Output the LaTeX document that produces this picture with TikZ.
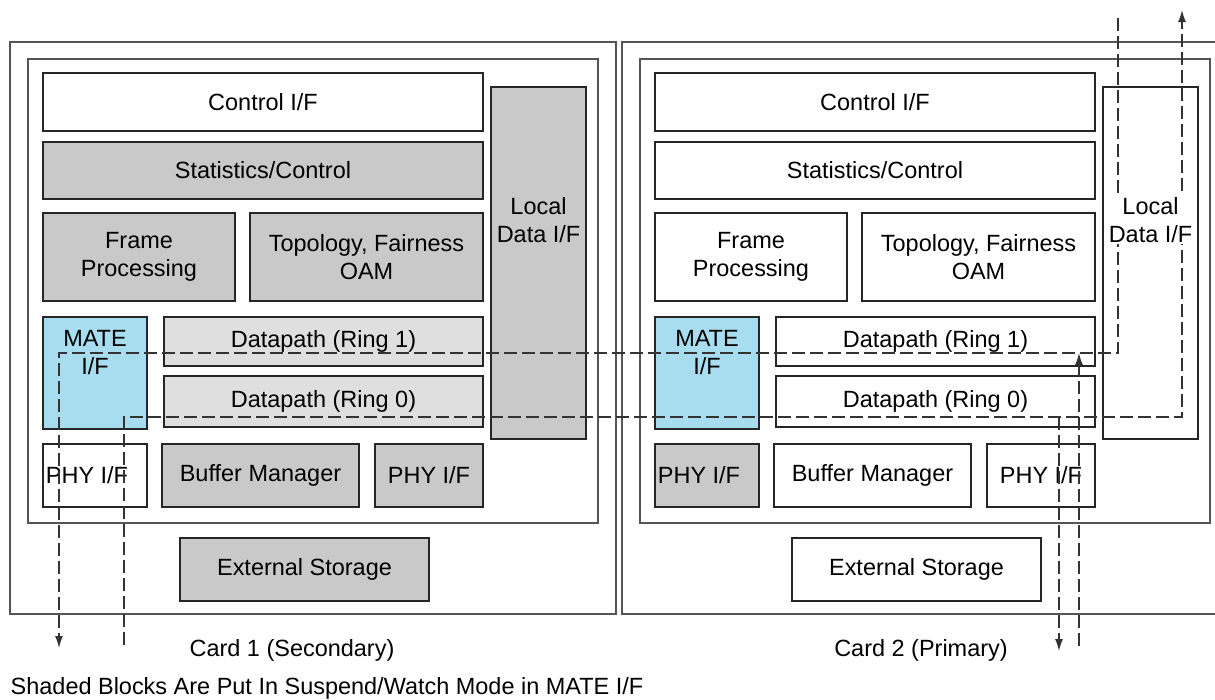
\documentclass[tikz,border=0pt]{standalone}
\usepackage{fontspec}
\setmainfont{Liberation Sans}
\usetikzlibrary{arrows.meta}

\newdimen\pxu \pxu=0.75pt
\definecolor{shade}{HTML}{C9C9C9}
\definecolor{lightshade}{HTML}{DFDFDF}
\definecolor{mateblue}{HTML}{A7DDEF}
\definecolor{cardline}{HTML}{555555}

\begin{document}
\begin{tikzpicture}[x=0.75pt, y=-0.75pt,
  txt/.style={font=\fontsize{17.6}{21}\selectfont, align=center},
  block/.style={rectangle, draw=black!85, line width=1.5pt, inner sep=0pt, txt},
  card/.style={draw=cardline, line width=1.1pt},
  flow/.style={draw=black!80, line width=1pt, dash pattern=on 13\pxu off 5\pxu},
  tip/.style={-{Latex[length=9pt, width=6pt]}}
]
\useasboundingbox (0,0) rectangle (1215,700);
\clip (0,0) rectangle (1215,700);

% card 1 (secondary)
\draw[card] (10,42) rectangle (616,614);
\draw[card] (28,59) rectangle (598,523);
\node[block, fill=white, minimum width=440\pxu, minimum height=58\pxu] (c1ctl) at (263,102) {Control I/F};
\node[block, fill=shade, minimum width=440\pxu, minimum height=57\pxu] (c1stat) at (263,170.5) {Statistics/Control};
\node[block, fill=shade, minimum width=192\pxu, minimum height=88\pxu] (c1frame) at (139,257) {Frame\\Processing};
\node[block, fill=shade, minimum width=233\pxu, minimum height=88\pxu] (c1topo) at (366.5,257) {Topology, Fairness\\OAM};
\node[block, fill=shade, minimum width=95\pxu, minimum height=352\pxu,
  label={[txt, yshift=32pt]center:{Local\\Data I/F}}] (c1local) at (538.5,263) {};
\node[block, fill=mateblue, minimum width=104\pxu, minimum height=112\pxu,
  label={[txt, yshift=15pt]center:{MATE\\I/F}}] (c1mate) at (95,373) {};
\node[block, fill=lightshade, minimum width=319\pxu, minimum height=49\pxu] (c1ring1) at (323.5,341.5) {Datapath (Ring 1)};
\node[block, fill=lightshade, minimum width=319\pxu, minimum height=51\pxu] (c1ring0) at (323.5,401.5) {Datapath (Ring 0)};
\node[block, fill=white, minimum width=104\pxu, minimum height=63\pxu] (c1phya) at (95,475.5) {PHY I/F\hspace*{12pt}};
\node[block, fill=shade, minimum width=197\pxu, minimum height=63\pxu] (c1buf) at (260.5,475.5) {Buffer Manager};
\node[block, fill=shade, minimum width=108\pxu, minimum height=63\pxu] (c1phyb) at (429,475.5) {PHY I/F};
\node[block, fill=shade, minimum width=249\pxu, minimum height=63\pxu] (c1ext) at (304.5,569.5) {External Storage};
\node[txt] (c1name) at (292,650) {Card 1 (Secondary)};

% card 2 (primary)
\begin{scope}[xshift=612\pxu]
\draw[card] (10,42) rectangle (616,614);
\draw[card] (28,59) rectangle (598,523);
\node[block, fill=white, minimum width=440\pxu, minimum height=58\pxu] (c2ctl) at (263,102) {Control I/F};
\node[block, fill=white, minimum width=440\pxu, minimum height=57\pxu] (c2stat) at (263,170.5) {Statistics/Control};
\node[block, fill=white, minimum width=192\pxu, minimum height=88\pxu] (c2frame) at (139,257) {Frame\\Processing};
\node[block, fill=white, minimum width=233\pxu, minimum height=88\pxu] (c2topo) at (366.5,257) {Topology, Fairness\\OAM};
\node[block, fill=white, minimum width=95\pxu, minimum height=352\pxu] (c2local) at (538.5,263) {};
\node[block, fill=mateblue, minimum width=104\pxu, minimum height=112\pxu,
  label={[txt, yshift=15pt]center:{MATE\\I/F}}] (c2mate) at (95,373) {};
\node[block, fill=white, minimum width=319\pxu, minimum height=49\pxu] (c2ring1) at (323.5,341.5) {Datapath (Ring 1)};
\node[block, fill=white, minimum width=319\pxu, minimum height=51\pxu] (c2ring0) at (323.5,401.5) {Datapath (Ring 0)};
\node[block, fill=shade, minimum width=104\pxu, minimum height=63\pxu] (c2phya) at (95,475.5) {PHY I/F\hspace*{12pt}};
\node[block, fill=white, minimum width=197\pxu, minimum height=63\pxu] (c2buf) at (260.5,475.5) {Buffer Manager};
\node[block, fill=white, minimum width=108\pxu, minimum height=63\pxu] (c2phyb) at (429,475.5) {PHY I/F};
\node[block, fill=white, minimum width=249\pxu, minimum height=63\pxu] (c2ext) at (304.5,569.5) {External Storage};
\node[txt] (c2name) at (309,650) {Card 2 (Primary)};
\end{scope}

% dashed data paths
\coordinate (r1lvl) at (0,353);
\coordinate (r0lvl) at (0,417);
\coordinate (r1in)  at (1118,18);
\coordinate (r1out) at (59,648);
\coordinate (r0in)  at (124,645);
\coordinate (r0out) at (1182,10);
\coordinate (dropout) at (1059,651);
\coordinate (addin)  at (1079,646);

\draw[flow, tip] (r1in) |- (r1lvl -| r1out) -- (r1out);
\draw[flow, tip] (r0in) |- (r0lvl -| r0out) -- (r0out);
\draw[flow, tip] (dropout |- r0lvl) -- (dropout);
\draw[flow, tip] (addin) -- (addin |- r1lvl);

\node[txt, fill=white, inner sep=1pt] (c2localtxt) at (1150.5,220) {Local\\Data I/F};

\node[txt, anchor=west] (note) at (6,688) {Shaded Blocks Are Put In Suspend/Watch Mode in MATE I/F};
\end{tikzpicture}
\end{document}
